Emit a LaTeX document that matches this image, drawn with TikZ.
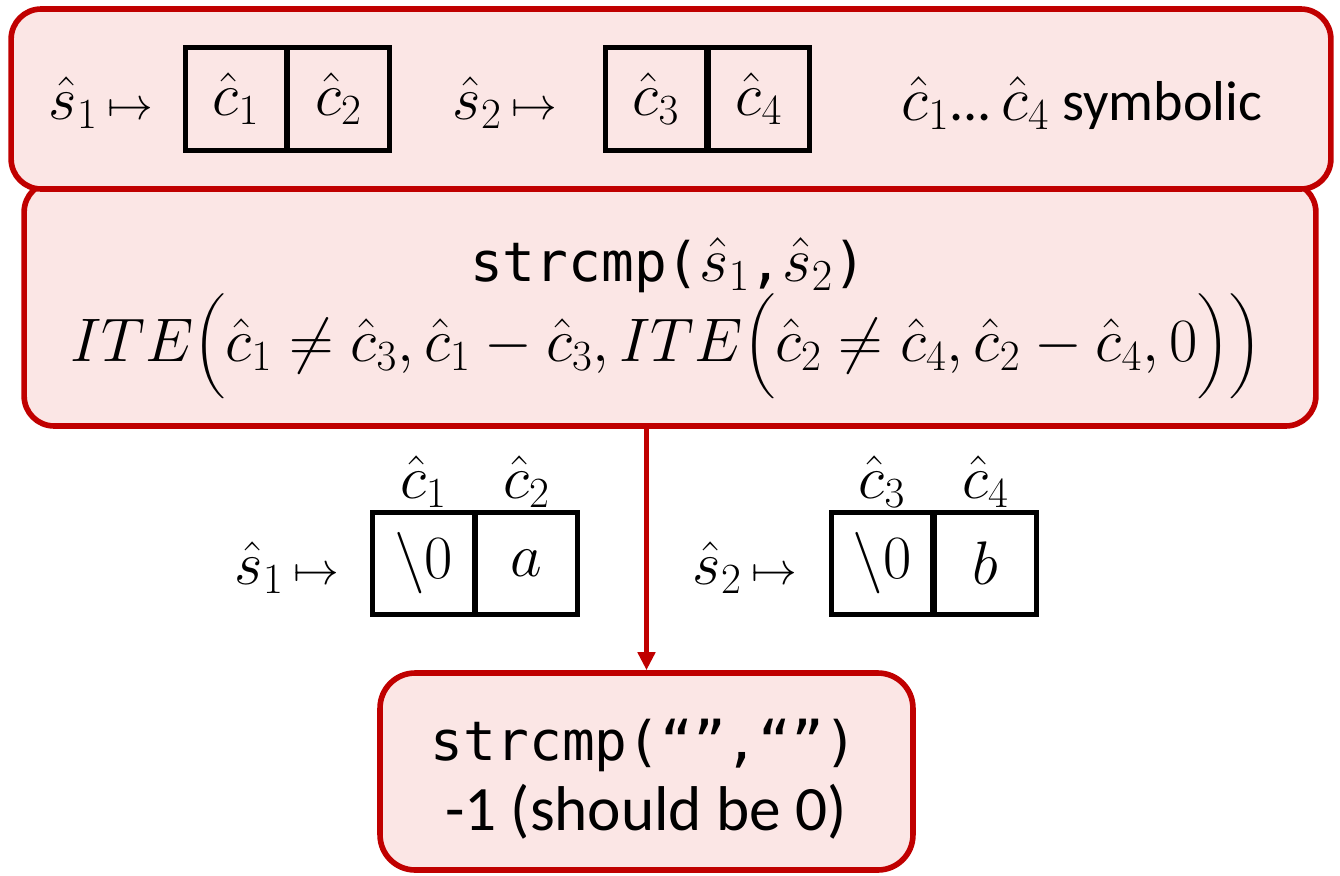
\documentclass[tikz,border=0pt]{standalone}
\usepackage{fix-cm}
\usepackage{amsmath}
\usepackage[no-math]{fontspec}
\setmainfont{Carlito}
\setmonofont{DejaVu Sans Mono}
\usepackage{graphicx}
\usetikzlibrary{arrows.meta}
\definecolor{myred}{RGB}{192,0,0}
\definecolor{mypink}{RGB}{251,230,229}
\newcommand{\largemath}[1]{{\fontsize{36}{40}\selectfont$#1$}}
\newcommand{\smap}[1]{{\fontsize{35}{40}\selectfont$#1$}\hspace{0.2cm}{\fontsize{26}{30}\selectfont$\mapsto$}}
\begin{document}
\begin{tikzpicture}[x=0.02cm,y=-0.02cm,
  panel/.style={draw=myred,line width=3.2pt,fill=mypink,rounded corners=0.6cm,inner sep=0pt},
  cell/.style={draw=black,line width=2.85pt,minimum width=2.04cm,minimum height=2.06cm,inner sep=0pt,font=\fontsize{35}{40}\selectfont},
  lbl/.style={inner sep=0pt,font=\fontsize{35}{40}\selectfont},
  mono/.style={inner sep=0pt,font=\ttfamily\fontsize{31}{37}\selectfont},
  arr/.style={draw=myred,line width=3.2pt,-{Triangle[length=0.36cm,width=0.34cm]}}]
\useasboundingbox (0,0) rectangle (1340,876);
% middle panel (behind)
\node[panel,minimum width=25.84cm,minimum height=4.88cm] (mid) at (670,304) {};
% top panel
\node[panel,minimum width=26.4cm,minimum height=3.6cm] (top) at (671,99) {};
% top row
\node[lbl] (s1t) at (101,103) {\smap{\hat s_1}};
\node[cell] (c1t) at (236,99) {$\hat c_1$};
\node[cell] (c2t) at (338.5,99) {$\hat c_2$};
\node[lbl] (s2t) at (505,103) {\smap{\hat s_2}};
\node[cell] (c3t) at (656,99) {$\hat c_3$};
\node[cell] (c4t) at (759,99) {$\hat c_4$};
\node[lbl,font=\fontsize{32}{38}\selectfont] (sym) at (1082,103) {\largemath{\hat c_1}...\,\largemath{\hat c_4} symbolic};
% middle text
\node[mono] (m1) at (668,265) {strcmp(\largemath{\hat s_1},\largemath{\hat s_2})};
\node[lbl] (m2) at (666,346) {\resizebox{23.84cm}{!}{$ITE\Bigl(\hat c_1\neq\hat c_3,\hat c_1-\hat c_3,ITE\Bigl(\hat c_2\neq\hat c_4,\hat c_2-\hat c_4,0\Bigr)\Bigr)$}};
% bottom panel
\node[panel,rounded corners=0.7cm,minimum width=10.66cm,minimum height=3.94cm] (bot) at (646.5,771.5) {};
\node[mono] (b1) at (644,745) {strcmp(“”,“”)};
\node[inner sep=0pt,font=\fontsize{36}{43}\selectfont] (b2) at (646,812) {-1 (should be 0)};
% arrow
\draw[arr] (mid.south -| bot.north) -- (bot.north);
% lower row
\node[lbl] (s1b) at (287,568) {\smap{\hat s_1}};
\node[cell] (c1b) at (423.5,563.5) {$\backslash 0$};
\node[cell] (c2b) at (526.5,563.5) {$a$};
\node[lbl] (l1) at (c1b.north) [yshift=0.55cm] {$\hat c_1$};
\node[lbl] (l2) at (c2b.north) [yshift=0.55cm] {$\hat c_2$};
\node[lbl] (s2b) at (745,568) {\smap{\hat s_2}};
\node[cell] (c3b) at (882,563.5) {$\backslash 0$};
\node[cell] (c4b) at (985.5,563.5) {$b$};
\node[lbl] (l3) at (c3b.north) [yshift=0.55cm] {$\hat c_3$};
\node[lbl] (l4) at (c4b.north) [yshift=0.55cm] {$\hat c_4$};
\end{tikzpicture}
\end{document}
